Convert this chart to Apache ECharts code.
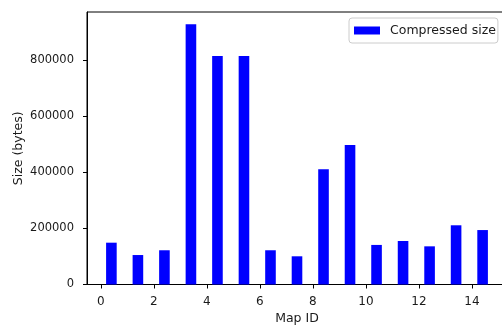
<!DOCTYPE html>
<html>
<head>
<meta charset="utf-8">
<script src="https://cdn.jsdelivr.net/npm/echarts@6/dist/echarts.min.js"></script>
<style>
  html, body { margin: 0; padding: 0; background: #fff; }
  #chart { width: 502px; height: 325px; }
</style>
</head>
<body>
<div id="chart"></div>
<script>
// Compressed size of each map, in bytes
const mapIds = [0, 1, 2, 3, 4, 5, 6, 7, 8, 9, 10, 11, 12, 13, 14];
const compressedSizes = [149000, 105000, 122000, 927000, 814000, 814000, 122000, 100500,
                         410500, 497000, 141000, 155000, 136000, 211000, 194000];
const xTicks = [0, 2, 4, 6, 8, 10, 12, 14];
const yTicks = [0, 200000, 400000, 600000, 800000];

// Bars sit to the right of each id, 0.4 wide
const BAR_OFFSET = 0.4;
const BAR_WIDTH = 0.4;

const FONT = 'DejaVu Sans';
const TEXT = '#1a1a1a';
const FONT_SIZE = 12.5;

const chart = echarts.init(document.getElementById('chart'), null, { renderer: 'canvas' });

chart.setOption({
  animation: false,
  backgroundColor: '#ffffff',
  grid: {
    left: 87, top: 12, right: -5, bottom: 40.5,
    outerBoundsMode: 'none',
    containLabel: false,
    show: true, borderColor: '#000', borderWidth: 1, backgroundColor: 'transparent'
  },
  legend: {
    left: 349, top: 18,
    padding: [6, 2, 6, 5],
    itemWidth: 26, itemHeight: 8,
    icon: 'rect',
    borderColor: '#cccccc', borderWidth: 1, borderRadius: 3,
    backgroundColor: 'rgba(255,255,255,0.8)',
    textStyle: { fontFamily: FONT, fontSize: FONT_SIZE, color: TEXT, padding: [0, 0, 0, 5] },
    data: ['Compressed size']
  },
  xAxis: {
    type: 'value',
    min: -0.52, max: 15.32,
    name: 'Map ID', nameLocation: 'middle', nameGap: 28,
    nameMoveOverlap: false,
    nameTextStyle: { fontFamily: FONT, fontSize: FONT_SIZE, color: TEXT },
    splitLine: { show: false },
    axisLine: { show: true, onZero: false, lineStyle: { color: '#000', width: 1 } },
    axisTick: { show: true, length: 4, customValues: xTicks, lineStyle: { color: '#000', width: 1 } },
    axisLabel: { customValues: xTicks, margin: 11, fontFamily: FONT, fontSize: 12, color: TEXT,
                 formatter: v => String(v) }
  },
  yAxis: {
    type: 'value',
    min: 0, max: 971000,
    name: 'Size (bytes)', nameLocation: 'middle', nameRotate: 90, nameGap: 62,
    nameMoveOverlap: false,
    nameTextStyle: { fontFamily: FONT, fontSize: FONT_SIZE, color: TEXT },
    splitLine: { show: false },
    axisLine: { show: true, onZero: false, lineStyle: { color: '#000', width: 1 } },
    axisTick: { show: true, length: 4, customValues: yTicks, lineStyle: { color: '#000', width: 1 } },
    axisLabel: { customValues: yTicks, margin: 13, fontFamily: FONT, fontSize: 11.5, color: TEXT,
                 formatter: v => String(v) }
  },
  series: [{
    name: 'Compressed size',
    type: 'custom',
    itemStyle: { color: '#0000ff' },
    data: mapIds.map((id, i) => [id + BAR_OFFSET, compressedSizes[i]]),
    renderItem: function (params, api) {
      const x = api.value(0), y = api.value(1);
      const topLeft = api.coord([x - BAR_WIDTH / 2, y]);
      const bottomRight = api.coord([x + BAR_WIDTH / 2, 0]);
      return {
        type: 'rect',
        shape: {
          x: topLeft[0], y: topLeft[1],
          width: bottomRight[0] - topLeft[0],
          height: bottomRight[1] - topLeft[1]
        },
        style: { fill: '#0000ff' }
      };
    }
  }]
});
</script>
</body>
</html>
